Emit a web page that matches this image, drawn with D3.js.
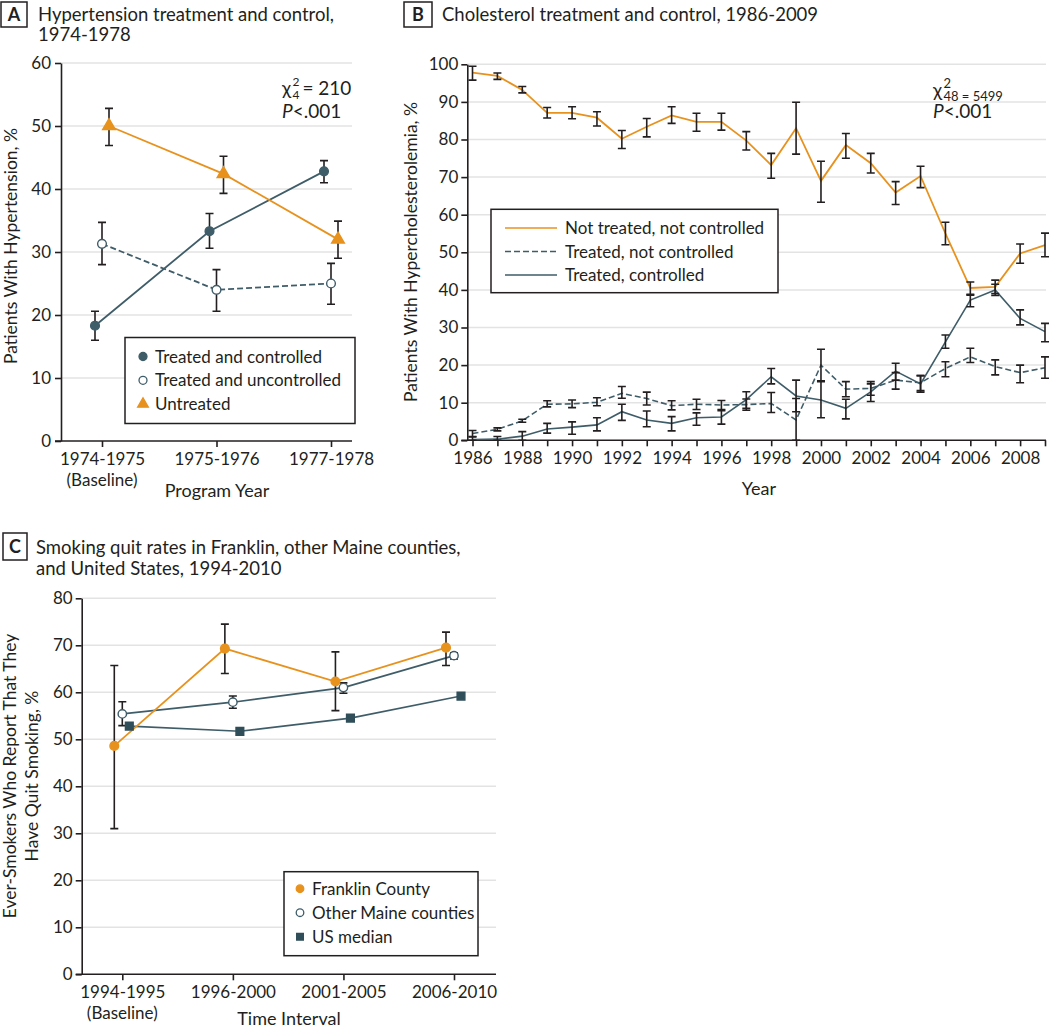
<!DOCTYPE html>
<html><head><meta charset="utf-8">
<script src="https://cdn.jsdelivr.net/npm/d3@7"></script>
<style>
body{margin:0;background:#fff;}
</style></head><body>
<svg id="c" width="1050" height="1030"></svg>
<script>
// ---------------- DATA ----------------
// Panel A
const catsA = ["1974-1975", "1975-1976", "1977-1978"];
const aControlled   = [18.3, 33.3, 42.8];
const aControlledLo = [16.0, 30.6, 41.0];
const aControlledHi = [20.6, 36.1, 44.5];
const aUncontrolled   = [31.3, 24.0, 25.0];
const aUncontrolledLo = [28.0, 20.6, 21.7];
const aUncontrolledHi = [34.7, 27.2, 28.2];
const aUntreated   = [50.0, 42.4, 32.0];
const aUntreatedLo = [46.9, 39.3, 29.0];
const aUntreatedHi = [52.8, 45.2, 34.9];
const ticksA = [0, 10, 20, 30, 40, 50, 60];

// Panel B
const yearsB = [1986, 1987, 1988, 1989, 1990, 1991, 1992, 1993, 1994, 1995, 1996, 1997,
                1998, 1999, 2000, 2001, 2002, 2003, 2004, 2005, 2006, 2007, 2008, 2009];
const bNotTreated   = [97.8, 96.9, 93.2, 87.1, 87.1, 85.8, 80.2, 83.4, 86.4, 84.7, 84.7, 79.7, 73.2, 83.0, 69.0, 78.5, 73.7, 65.9, 70.3, 55.0, 40.5, 40.8, 49.7, 51.9];
const bNotTreatedLo = [95.8, 96.0, 92.4, 85.7, 85.5, 83.6, 77.6, 80.7, 84.3, 82.2, 82.5, 77.2, 69.7, 76.1, 63.3, 75.0, 71.1, 62.7, 67.2, 52.0, 38.8, 39.0, 47.1, 48.8];
const bNotTreatedHi = [99.5, 97.7, 94.1, 88.5, 88.7, 87.4, 82.4, 85.6, 88.7, 87.0, 87.0, 82.1, 76.3, 89.9, 74.2, 81.6, 76.3, 68.8, 72.9, 58.0, 42.1, 42.6, 52.2, 55.1];
const bTreatedNC   = [1.8, 2.9, 5.2, 9.6, 9.7, 10.1, 12.5, 11.1, 9.2, 9.6, 9.4, 9.5, 9.8, 5.4, 20.0, 13.6, 13.8, 16.0, 15.3, 19.1, 22.2, 19.6, 18.0, 19.3];
const bTreatedNCLo = [1.0, 2.5, 4.8, 8.9, 8.7, 9.2, 11.2, 9.4, 8.1, 8.2, 8.2, 8.0, 7.4, 0.0, 15.8, 11.6, 12.0, 13.6, 13.2, 16.9, 20.7, 17.4, 15.3, 16.5];
const bTreatedNCHi = [2.6, 3.3, 5.6, 10.5, 10.7, 11.3, 14.3, 12.8, 10.5, 10.9, 10.6, 11.0, 12.7, 11.1, 24.2, 15.6, 15.6, 18.0, 17.2, 20.9, 24.5, 21.4, 20.0, 22.2];
const bTreatedC   = [0.2, 0.3, 1.1, 3.0, 3.5, 4.1, 7.6, 5.4, 4.5, 6.0, 6.2, 10.8, 16.9, 11.8, 10.7, 8.5, 12.9, 18.4, 15.0, 26.2, 37.3, 40.0, 32.4, 28.9];
const bTreatedCLo = [0.0, 0.0, 0.0, 1.9, 1.6, 2.5, 5.3, 3.6, 2.5, 4.0, 4.3, 8.5, 15.0, 7.6, 6.0, 5.7, 10.3, 16.0, 12.8, 24.5, 35.5, 38.5, 30.7, 26.2];
const bTreatedCHi = [0.9, 1.0, 2.3, 4.5, 4.9, 6.0, 9.6, 7.8, 6.3, 7.3, 7.9, 12.9, 19.1, 16.0, 15.6, 10.9, 15.0, 20.5, 17.2, 28.0, 38.6, 41.5, 34.7, 31.1];
const ticksB = [0, 10, 20, 30, 40, 50, 60, 70, 80, 90, 100];

// Panel C
const catsC = ["1994-1995", "1996-2000", "2001-2005", "2006-2010"];
const cFranklin   = [48.6, 69.3, 62.3, 69.5];
const cFranklinLo = [31.0, 64.0, 56.1, 65.7];
const cFranklinHi = [65.7, 74.5, 68.6, 72.8];
const cMaine   = [55.4, 57.9, 61.0, 67.8];
const cMaineLo = [52.9, 56.6, 59.8, 67.1];
const cMaineHi = [58.0, 59.2, 62.0, 68.4];
const cUS = [52.8, 51.7, 54.5, 59.2];
const ticksC = [0, 10, 20, 30, 40, 50, 60, 70, 80];

// ---------------- STYLE ----------------
const FONT = "Lato, 'DejaVu Sans', sans-serif";
const ORANGE = "#E8921E", TEAL = "#3F5D69", SQ = "#2F4E5A", DARK = "#231f20", GRID = "#e3e3e3";

const svg = d3.select("#c");
svg.append("rect").attr("width", 1050).attr("height", 1030).attr("fill", "#fff");

function txt(x, y, s, size, anchor, opts) {
  const t = svg.append("text").attr("x", x).attr("y", y).attr("font-family", FONT)
    .attr("font-size", size).attr("fill", DARK).attr("text-anchor", anchor || "start").text(s);
  if (opts && opts.rot) t.attr("transform", `rotate(-90,${x},${y})`);
  if (opts && opts.weight) t.attr("font-weight", opts.weight);
  return t;
}
function letterBox(letter, x0, y0, w, h) {
  svg.append("rect").attr("x", x0).attr("y", y0).attr("width", w).attr("height", h)
    .attr("fill", "none").attr("stroke", DARK).attr("stroke-width", 1.5);
  txt(x0 + w / 2, y0 + h / 2 + 6.5, letter, 18, "middle", {weight: 700});
}
function styleAxis(g) {
  g.attr("font-family", FONT).attr("font-size", 17);
  g.selectAll("path.domain").attr("stroke", DARK).attr("stroke-width", 1.6);
  g.selectAll(".tick line").attr("stroke", DARK).attr("stroke-width", 1.6);
  g.selectAll(".tick text").attr("fill", DARK);
}
function grid(ticks, y, x0, x1) {
  svg.append("g").selectAll("line").data(ticks.filter(d => d > 0)).join("line")
    .attr("x1", x0).attr("x2", x1).attr("y1", d => y(d)).attr("y2", d => y(d))
    .attr("stroke", GRID).attr("stroke-width", 1.5);
}
function errBars(xs, lo, hi, x, y, dx, cap) {
  const data = xs.map((c, i) => ({c, lo: lo[i], hi: hi[i]}));
  svg.append("g").selectAll("path").data(data).join("path")
    .attr("fill", "none").attr("stroke", DARK).attr("stroke-width", 1.6)
    .attr("d", d => {
      const px = x(d.c) + dx, yh = y(d.hi), yl = y(d.lo);
      return `M${px - cap},${yh}H${px + cap}M${px},${yh}V${yl}M${px - cap},${yl}H${px + cap}`;
    });
}
function seriesLine(xs, vals, x, y, dx, color, dash, width) {
  const line = d3.line().x((d, i) => x(xs[i]) + dx).y(d => y(d));
  const p = svg.append("path").datum(vals).attr("d", line).attr("fill", "none")
    .attr("stroke", color).attr("stroke-width", width || 1.8);
  if (dash) p.attr("stroke-dasharray", dash);
}
function markers(xs, vals, x, y, dx, type, fill, stroke, size) {
  const sym = d3.symbol().type(type).size(size);
  svg.append("g").selectAll("path").data(vals).join("path")
    .attr("d", sym).attr("transform", (d, i) => `translate(${x(xs[i]) + dx},${y(d)})`)
    .attr("fill", fill).attr("stroke", stroke).attr("stroke-width", 1.4);
}
function chiStat(x, y, sup, sub, rest, big, small) {
  const t = svg.append("text").attr("x", x).attr("y", y).attr("font-family", FONT)
    .attr("font-size", big).attr("fill", DARK);
  t.append("tspan").text("χ");
  const sx = x + big * 0.55;
  t.append("tspan").attr("x", sx).attr("dy", -big * 0.5).attr("font-size", small).text(sup);
  t.append("tspan").attr("x", sx).attr("dy", big * 0.72).attr("font-size", small).text(sub);
  if (rest) t.append("tspan").attr("dy", -big * 0.22).attr("dx", 3).text(rest);
}
function pVal(x, y, size) {
  const p = svg.append("text").attr("x", x).attr("y", y).attr("font-family", FONT)
    .attr("font-size", size).attr("fill", DARK);
  p.append("tspan").attr("font-style", "italic").text("P");
  p.append("tspan").text("<.001");
}

// ---------------- PANEL A ----------------
{
  const x = d3.scalePoint().domain(catsA).range([102, 331]);
  const y = d3.scaleLinear().domain([0, 60]).range([441, 63]);
  const L = 61, R = 352;
  letterBox("A", 1, 2, 26, 25);
  txt(38, 21, "Hypertension treatment and control,", 18.5);
  txt(38, 41, "1974-1978", 18.5);
  grid(ticksA, y, L, R);
  const gy = svg.append("g").attr("transform", `translate(${L},0)`)
    .call(d3.axisLeft(y).tickValues(ticksA).tickSize(6).tickSizeOuter(0).tickPadding(4));
  styleAxis(gy);
  const gx = svg.append("g").attr("transform", `translate(0,${y(0)})`)
    .call(d3.axisBottom(x).tickSize(6).tickSizeOuter(0).tickPadding(6));
  gx.select("path.domain").remove();
  styleAxis(gx);
  svg.append("line").attr("x1", L - 6).attr("x2", R).attr("y1", y(0)).attr("y2", y(0))
    .attr("stroke", DARK).attr("stroke-width", 1.6);
  txt(x(catsA[0]), 486, "(Baseline)", 17, "middle");
  txt(217, 497, "Program Year", 18, "middle");
  txt(17, 246, "Patients With Hypertension, %", 17.5, "middle", {rot: true});

  seriesLine(catsA, aUncontrolled, x, y, 0, TEAL, "6,3");
  seriesLine(catsA, aControlled, x, y, -7, TEAL);
  seriesLine(catsA, aUntreated, x, y, 7, ORANGE);
  errBars(catsA, aUncontrolledLo, aUncontrolledHi, x, y, 0, 4);
  errBars(catsA, aControlledLo, aControlledHi, x, y, -7, 4);
  errBars(catsA, aUntreatedLo, aUntreatedHi, x, y, 7, 4);
  markers(catsA, aUncontrolled, x, y, 0, d3.symbolCircle, "#fff", TEAL, 60);
  markers(catsA, aControlled, x, y, -7, d3.symbolCircle, TEAL, TEAL, 60);
  markers(catsA, aUntreated, x, y, 7, d3.symbolTriangle, ORANGE, ORANGE, 70);

  chiStat(282, 95, "2", "4", "= 210", 19, 12);
  pVal(282, 118, 19);

  // legend
  svg.append("rect").attr("x", 125).attr("y", 337.5).attr("width", 230).attr("height", 86)
    .attr("fill", "#fff").attr("stroke", DARK).attr("stroke-width", 1.5);
  const items = [
    {t: "Treated and controlled", type: d3.symbolCircle, fill: TEAL, stroke: TEAL},
    {t: "Treated and uncontrolled", type: d3.symbolCircle, fill: "#fff", stroke: TEAL},
    {t: "Untreated", type: d3.symbolTriangle, fill: ORANGE, stroke: ORANGE}];
  items.forEach((it, i) => {
    const cy = 356.5 + i * 23.8;
    svg.append("path").attr("d", d3.symbol().type(it.type).size(50)())
      .attr("transform", `translate(143,${cy})`).attr("fill", it.fill).attr("stroke", it.stroke).attr("stroke-width", 1.3);
    txt(155, cy + 6, it.t, 17);
  });
}

// ---------------- PANEL B ----------------
{
  const x = d3.scaleLinear().domain([1986, 2009]).range([472.5, 1045]);
  const y = d3.scaleLinear().domain([0, 100]).range([440.3, 64.3]);
  const L = 467.3, R = 1046;
  letterBox("B", 404, 2, 28, 25);
  txt(442, 21, "Cholesterol treatment and control, 1986-2009", 18.5);
  grid(ticksB, y, L, R);
  const gy = svg.append("g").attr("transform", `translate(${L},0)`)
    .call(d3.axisLeft(y).tickValues(ticksB).tickSize(6).tickSizeOuter(0).tickPadding(3));
  styleAxis(gy);
  const gx = svg.append("g").attr("transform", `translate(0,${y(0)})`)
    .call(d3.axisBottom(x).tickValues(yearsB).tickFormat(d => d % 2 === 0 ? d : "")
      .tickSize(6).tickSizeOuter(0).tickPadding(6));
  gx.select("path.domain").remove();
  styleAxis(gx);
  svg.append("line").attr("x1", L - 6).attr("x2", R).attr("y1", y(0)).attr("y2", y(0))
    .attr("stroke", DARK).attr("stroke-width", 1.6);
  txt(759, 495, "Year", 18, "middle");
  txt(417, 252, "Patients With Hypercholesterolemia, %", 17.5, "middle", {rot: true});

  seriesLine(yearsB, bTreatedNC, x, y, 0, TEAL, "6,3", 1.6);
  seriesLine(yearsB, bTreatedC, x, y, 0, TEAL, null, 1.6);
  seriesLine(yearsB, bNotTreated, x, y, 0, ORANGE, null, 1.8);
  errBars(yearsB, bTreatedNCLo, bTreatedNCHi, x, y, 0, 4);
  errBars(yearsB, bTreatedCLo, bTreatedCHi, x, y, 0, 4);
  errBars(yearsB, bNotTreatedLo, bNotTreatedHi, x, y, 0, 4);

  chiStat(933, 97, "2", "48 = 5499", null, 19, 13);
  pVal(933, 118, 19);

  // legend
  svg.append("rect").attr("x", 491).attr("y", 209.3).attr("width", 287).attr("height", 83.4)
    .attr("fill", "#fff").attr("stroke", DARK).attr("stroke-width", 1.5);
  const items = [
    {t: "Not treated, not controlled", c: ORANGE, dash: null},
    {t: "Treated, not controlled", c: TEAL, dash: "6,3"},
    {t: "Treated, controlled", c: TEAL, dash: null}];
  items.forEach((it, i) => {
    const cy = 228 + i * 23.5;
    const l = svg.append("line").attr("x1", 505).attr("x2", 557).attr("y1", cy).attr("y2", cy)
      .attr("stroke", it.c).attr("stroke-width", 1.7);
    if (it.dash) l.attr("stroke-dasharray", it.dash);
    txt(565, cy + 6, it.t, 17);
  });
}

// ---------------- PANEL C ----------------
{
  const x = d3.scalePoint().domain(catsC).range([122.3, 454]);
  const y = d3.scaleLinear().domain([0, 80]).range([974.3, 598.3]);
  const L = 81.7, R = 496;
  letterBox("C", 3, 533, 24, 27);
  txt(36, 554, "Smoking quit rates in Franklin, other Maine counties,", 18.5);
  txt(36, 575, "and United States, 1994-2010", 18.5);
  grid(ticksC, y, L, R);
  const gy = svg.append("g").attr("transform", `translate(${L},0)`)
    .call(d3.axisLeft(y).tickValues(ticksC).tickSize(6).tickSizeOuter(0).tickPadding(3));
  styleAxis(gy);
  const gx = svg.append("g").attr("transform", `translate(0,${y(0)})`)
    .call(d3.axisBottom(x).tickSize(6).tickSizeOuter(0).tickPadding(6));
  gx.select("path.domain").remove();
  styleAxis(gx);
  svg.append("line").attr("x1", L - 6).attr("x2", R).attr("y1", y(0)).attr("y2", y(0))
    .attr("stroke", DARK).attr("stroke-width", 1.6);
  txt(x(catsC[0]), 1019, "(Baseline)", 17, "middle");
  txt(289, 1025, "Time Interval", 18, "middle");
  txt(16, 776, "Ever-Smokers Who Report That They", 17.5, "middle", {rot: true});
  txt(38, 776, "Have Quit Smoking, %", 17.5, "middle", {rot: true});

  seriesLine(catsC, cUS, x, y, 7, TEAL, null, 1.6);
  seriesLine(catsC, cMaine, x, y, 0, TEAL, null, 1.6);
  seriesLine(catsC, cFranklin, x, y, -8, ORANGE, null, 1.8);
  errBars(catsC, cMaineLo, cMaineHi, x, y, 0, 4);
  errBars(catsC, cFranklinLo, cFranklinHi, x, y, -8, 4);
  markers(catsC, cUS, x, y, 7, d3.symbolSquare, SQ, SQ, 60);
  markers(catsC, cMaine, x, y, 0, d3.symbolCircle, "#fff", TEAL, 55);
  markers(catsC, cFranklin, x, y, -8, d3.symbolCircle, ORANGE, ORANGE, 60);

  svg.append("rect").attr("x", 284).attr("y", 871.7).attr("width", 194).attr("height", 84)
    .attr("fill", "#fff").attr("stroke", DARK).attr("stroke-width", 1.5);
  const items = [
    {t: "Franklin County", type: d3.symbolCircle, fill: ORANGE, stroke: ORANGE},
    {t: "Other Maine counties", type: d3.symbolCircle, fill: "#fff", stroke: TEAL},
    {t: "US median", type: d3.symbolSquare, fill: SQ, stroke: SQ}];
  items.forEach((it, i) => {
    const cy = 888.7 + i * 24;
    svg.append("path").attr("d", d3.symbol().type(it.type).size(45)())
      .attr("transform", `translate(300,${cy})`).attr("fill", it.fill).attr("stroke", it.stroke).attr("stroke-width", 1.3);
    txt(312, cy + 6, it.t, 17);
  });
}
</script>
</body></html>
